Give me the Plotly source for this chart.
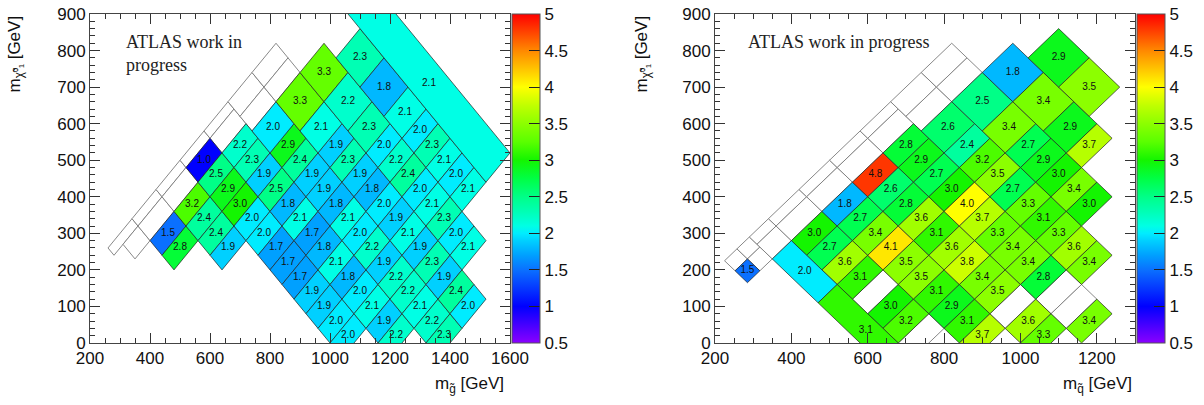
import plotly.graph_objects as go
from plotly.colors import sample_colorscale

# ---------------------------------------------------------------------------
# DATA  (bins live in rotated coordinates: s = m_x + m_chi, d = m_x - m_chi)
# ---------------------------------------------------------------------------
S_START = 680   # lower s edge of regular column k = 0
S_STEP = 160    # s width of a regular column
D_STEP = 80     # regular row j covers d in [80*j - 40, 80*j + 40]

# ---- left panel: gluino grid ----
GL_COL_K = [0, 1, 2, 3, 4, 5, 6, 7]
GL_COL_J0 = [2, 2, 1, 2, 4, 6, 8, 9]
GL_COL_VALS = [
    [1.5, 2.8],
    [3.2, 2.4, 2.4, 1.9],
    [1.0, 2.5, 2.9, 3.0, 2.0, 2.0, 1.7, 1.7, 1.7, 1.9, 1.9, 2.0, 2.0],
    [2.2, 2.3, 1.9, 2.5, 1.8, 2.1, 1.7, 1.8, 2.1, 1.8, 2.0, 2.1, 1.9, 2.2],
    [2.9, 2.4, 1.9, 1.9, 1.8, 2.1, 2.0, 2.2, 1.9, 2.2, 2.2, 2.1, 2.2, 2.3],
    [1.9, 2.3, 1.9, 1.8, 2.0, 1.9, 2.1, 1.9, 2.3, 1.9, 2.4, 2.0],
    [2.0, 2.2, 2.4, 2.0, 2.1, 2.3, 2.0, 2.1],
    [2.0, 2.3, 2.1, 2.0, 2.1],
]
# irregular (larger) bins: edges and values
GL_EX_S0 = [1320, 1480, 1480, 1640, 1640, 1640, 1800, 1800, 1800, 1960]
GL_EX_S1 = [1480, 1640, 1640, 1800, 1800, 1800, 1960, 1960, 1960, 2120]
GL_EX_D0 = [160, 160, 320, 160, 320, 480, 240, 400, 560, 160]
GL_EX_D1 = [280, 320, 440, 320, 480, 600, 400, 560, 680, 1080]
GL_EX_VAL = [2.0, 3.3, 2.1, 3.3, 2.2, 2.3, 2.3, 1.8, 2.1, 2.1]
# empty (outlined) bins
GL_NA_S0 = [520, 580, 680, 680, 840, 840, 1000, 1160, 1160, 1320, 1320, 1480, 1480]
GL_NA_S1 = [680, 680, 840, 840, 1000, 1000, 1160, 1320, 1320, 1480, 1480, 1640, 1640]
GL_NA_D0 = [0, 40, 0, 40, 0, 40, 0, 0, 40, 0, 80, 0, 80]
GL_NA_D1 = [40, 120, 40, 120, 40, 120, 40, 40, 120, 80, 160, 80, 160]

# ---- right panel: squark grid ----
SQ_COL_K = [0, 1, 2, 3, 4, 5, 6]
SQ_COL_J0 = [2, 2, 2, 2, 4, 6, 8]
SQ_COL_VALS = [
    [3.0, 2.7, 3.6, 3.1, None, 3.0, 3.2, None],
    [1.8, 2.7, 3.4, 4.1, 3.5, 3.5, 3.1, 2.9, 3.1, 3.7],
    [4.8, 2.6, 2.8, 3.6, 3.1, 3.6, 3.8, 3.4, 3.5, None, 3.6, 3.3],
    [2.8, 2.9, 2.7, 3.0, 4.0, 3.7, 3.3, 3.4, 3.4, 2.8, None, None, 3.4],
    [2.4, 3.2, 3.5, 2.7, 3.3, 3.1, 3.3, 3.6, 3.4],
    [2.7, 2.9, 3.0, 3.4, 3.0],
    [3.7],
]
SQ_EX_S0 = [1320, 1480, 1480, 1640, 1640, 1640, 1800, 1800, 580, 580, 450]
SQ_EX_S1 = [1480, 1640, 1640, 1800, 1800, 1800, 1960, 1960, 680, 680, 515]
SQ_EX_D0 = [160, 160, 320, 160, 320, 480, 240, 400, 120, 360, 55]
SQ_EX_D1 = [280, 320, 440, 320, 480, 600, 400, 560, 360, 760, 120]
SQ_EX_VAL = [2.6, 2.5, 3.4, 1.8, 3.4, 2.9, 2.9, 3.5, 2.0, 3.1, 1.5]
SQ_NA_S0 = [450, 515, 515, 580, 580, 680, 680, 840, 840, 1000, 1000, 1160, 1160, 1320, 1320, 1480, 1480]
SQ_NA_S1 = [515, 580, 580, 680, 680, 840, 840, 1000, 1000, 1160, 1160, 1320, 1320, 1480, 1480, 1640, 1640]
SQ_NA_D0 = [0, 0, 55, 0, 40, 0, 40, 0, 40, 0, 40, 0, 40, 0, 80, 0, 80]
SQ_NA_D1 = [55, 55, 120, 40, 120, 40, 120, 40, 120, 40, 120, 40, 120, 80, 160, 80, 160]

Z_MIN, Z_MAX = 0.5, 5.0
CB_TICKS = [0.5, 1, 1.5, 2, 2.5, 3, 3.5, 4, 4.5, 5]
CB_TEXT = ["0.5", "1", "1.5", "2", "2.5", "3", "3.5", "4", "4.5", "5"]

# ---------------------------------------------------------------------------
COLORSCALE = [
    [0.000, "#8a00ff"],
    [0.111, "#0000ff"],
    [0.222, "#0a70ff"],
    [0.267, "#00a0ff"],
    [0.289, "#00b8ff"],
    [0.311, "#00d0ff"],
    [0.333, "#00ecff"],
    [0.356, "#00ffe4"],
    [0.378, "#00ffcc"],
    [0.400, "#00ffb4"],
    [0.444, "#00ff88"],
    [0.500, "#00ff44"],
    [0.556, "#14f500"],
    [0.611, "#5aff00"],
    [0.667, "#8cff00"],
    [0.722, "#c0ff00"],
    [0.778, "#ffff00"],
    [0.833, "#ffc400"],
    [0.889, "#ff8800"],
    [0.944, "#ff4400"],
    [1.000, "#ff0000"],
]

# page geometry (body margin is removed below, so figure starts at 0,0)
W, H = 1204, 405


def px_x(p):
    return p / W


def px_y(p):
    return 1 - p / H


def color_of(v):
    t = (v - Z_MIN) / (Z_MAX - Z_MIN)
    t = min(max(t, 0.0), 1.0)
    return sample_colorscale(COLORSCALE, [t])[0]


def to_mass(s, d):
    return (s + d) / 2.0, (s - d) / 2.0


def build_cells(col_k, col_j0, col_vals, ex_s0, ex_s1, ex_d0, ex_d1, ex_val,
                na_s0, na_s1, na_d0, na_d1):
    cells = []  # (s0, s1, d0, d1, value or None)
    for s0, s1, d0, d1 in zip(na_s0, na_s1, na_d0, na_d1):
        cells.append((s0, s1, d0, d1, None))
    for k, j0, vals in zip(col_k, col_j0, col_vals):
        s0 = S_START + S_STEP * k
        for i, v in enumerate(vals):
            j = j0 + i
            cells.append((s0, s0 + S_STEP, D_STEP * j - D_STEP / 2, D_STEP * j + D_STEP / 2, v))
    for s0, s1, d0, d1, v in zip(ex_s0, ex_s1, ex_d0, ex_d1, ex_val):
        cells.append((s0, s1, d0, d1, v))
    cells.sort(key=lambda c: 0 if c[4] is None else 1)
    return cells


fig = go.Figure()

Y_TOP, Y_BOT = 14, 343


def add_panel(cells, xa, ya, cb_left):
    lx, ly, lt, lv = [], [], [], []
    for s0, s1, d0, d1, v in cells:
        pts = [(s0, d0), (s1, d0), (s1, d1), (s0, d1), (s0, d0)]
        xs = [to_mass(s, d)[0] for s, d in pts]
        ys = [to_mass(s, d)[1] for s, d in pts]
        if v is None:
            fill, lc, lw = "rgba(255,255,255,1)", "#7a7a7a", 0.9
        else:
            fill, lc, lw = color_of(v), "#222222", 0.7
        fig.add_trace(go.Scatter(x=xs, y=ys, mode="lines", fill="toself",
                                 fillcolor=fill, line=dict(color=lc, width=lw),
                                 hoverinfo="skip", showlegend=False,
                                 xaxis=xa, yaxis=ya))
        if v is not None:
            cx, cy = to_mass((s0 + s1) / 2.0, (d0 + d1) / 2.0)
            lx.append(cx)
            ly.append(cy)
            lt.append(f"{v:.1f}")
            lv.append(v)
    fig.add_trace(go.Scatter(
        x=lx, y=ly, text=lt, mode="markers+text", textposition="middle center",
        textfont=dict(size=10, color="#111111", family="Liberation Sans"),
        marker=dict(size=1, opacity=0, color=lv, colorscale=COLORSCALE,
                    cmin=Z_MIN, cmax=Z_MAX, showscale=True,
                    colorbar=dict(x=px_x(cb_left), xanchor="left",
                                  y=(px_y(Y_TOP) + px_y(Y_BOT)) / 2, yanchor="middle",
                                  len=(Y_BOT - Y_TOP) / H, lenmode="fraction",
                                  thickness=28, thicknessmode="pixels", xpad=0, ypad=0,
                                  outlinewidth=1, outlinecolor="#555555",
                                  tickvals=CB_TICKS, ticktext=CB_TEXT,
                                  ticks="inside", ticklen=11, tickcolor="#222222",
                                  tickfont=dict(size=17, family="Liberation Sans",
                                                color="#111111"))),
        hoverinfo="skip", showlegend=False, cliponaxis=True,
        xaxis=xa, yaxis=ya))


add_panel(build_cells(GL_COL_K, GL_COL_J0, GL_COL_VALS, GL_EX_S0, GL_EX_S1, GL_EX_D0,
                      GL_EX_D1, GL_EX_VAL, GL_NA_S0, GL_NA_S1, GL_NA_D0, GL_NA_D1),
          "x", "y", 512)
add_panel(build_cells(SQ_COL_K, SQ_COL_J0, SQ_COL_VALS, SQ_EX_S0, SQ_EX_S1, SQ_EX_D0,
                      SQ_EX_D1, SQ_EX_VAL, SQ_NA_S0, SQ_NA_S1, SQ_NA_D0, SQ_NA_D1),
          "x2", "y2", 1137)

axis_font = dict(size=17, family="Liberation Sans", color="#111111")
common_x = dict(dtick=200, tick0=200, ticks="inside", ticklen=10, tickcolor="#333333",
                minor=dict(ticks="inside", dtick=50, ticklen=5, tickcolor="#333333"),
                showline=True, linecolor="#444444", linewidth=1, mirror="allticks",
                showgrid=False, zeroline=False, tickfont=axis_font)
common_y = dict(dtick=100, tick0=0, ticks="inside", ticklen=10, tickcolor="#333333",
                minor=dict(ticks="inside", dtick=20, ticklen=5, tickcolor="#333333"),
                showline=True, linecolor="#444444", linewidth=1, mirror="allticks",
                showgrid=False, zeroline=False, tickfont=axis_font,
                domain=[px_y(Y_BOT), px_y(Y_TOP)], range=[0, 900])

fig.update_layout(
    width=W, height=H,
    margin=dict(l=0, r=0, t=0, b=0, pad=0, autoexpand=False),
    paper_bgcolor="white", plot_bgcolor="white",
    xaxis=dict(domain=[px_x(90), px_x(510)], range=[200, 1600], anchor="y", **common_x),
    yaxis=dict(anchor="x", **common_y),
    xaxis2=dict(domain=[px_x(715), px_x(1135)], range=[200, 1300], anchor="y2", **common_x),
    yaxis2=dict(anchor="x2", **common_y),
    font=dict(family="Liberation Sans"),
)

ann_font = dict(size=17, family="Liberation Sans", color="#111111")
serif = dict(size=18, family="Liberation Serif", color="#222222")
fig.add_annotation(text="m<sub>g̃</sub> [GeV]", xref="paper", yref="paper",
                   x=px_x(506), y=px_y(385), xanchor="right", yanchor="middle",
                   showarrow=False, font=ann_font)
fig.add_annotation(text="m<sub>q̃</sub> [GeV]", xref="paper", yref="paper",
                   x=px_x(1134), y=px_y(385), xanchor="right", yanchor="middle",
                   showarrow=False, font=ann_font)
for xp in (16, 643):
    fig.add_annotation(text="m<sub>χ̃⁰₁</sub> [GeV]", xref="paper", yref="paper",
                       x=px_x(xp), y=px_y(14), xanchor="center", yanchor="top",
                       textangle=-90, showarrow=False, font=ann_font)
fig.add_annotation(text="ATLAS work in<br>progress", xref="paper", yref="paper",
                   x=px_x(124), y=px_y(30), xanchor="left", yanchor="top",
                   align="left", showarrow=False, font=serif)
fig.add_annotation(text="ATLAS work in progress", xref="paper", yref="paper",
                   x=px_x(746), y=px_y(30), xanchor="left", yanchor="top",
                   align="left", showarrow=False, font=serif)

fig.write_html("out.html",
               config={"displayModeBar": False, "staticPlot": False},
               post_script="document.body.style.margin='0px';"
                           "document.body.style.padding='0px';")
